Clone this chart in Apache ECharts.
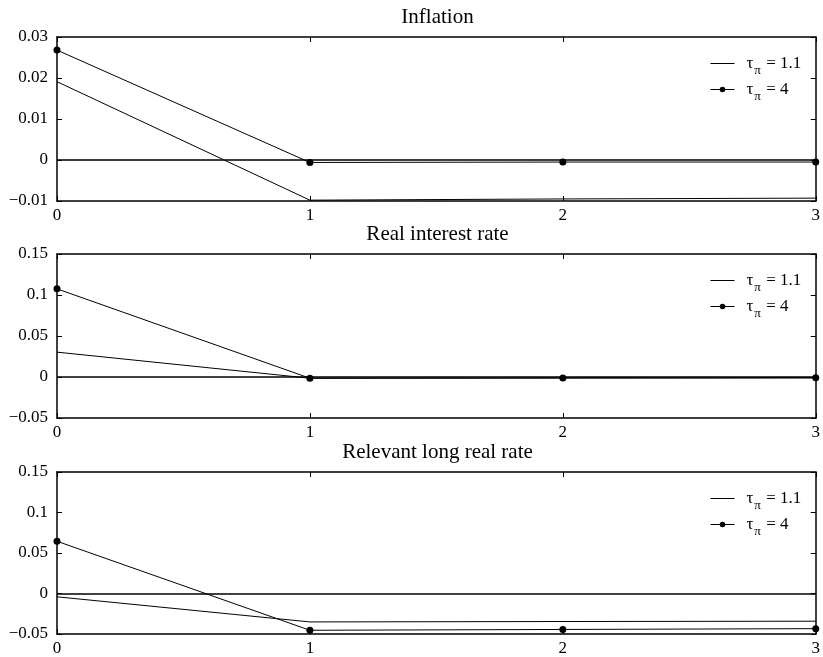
<!DOCTYPE html>
<html>
<head>
<meta charset="utf-8">
<script src="https://cdn.jsdelivr.net/npm/echarts@6/dist/echarts.min.js"></script>
<style>html,body{margin:0;padding:0;background:#fff}#c{width:823px;height:657px}</style>
</head>
<body>
<div id="c"></div>
<script>
const periods = [0, 1, 2, 3];
const titles = ['Inflation', 'Real interest rate', 'Relevant long real rate'];
const seriesNames = ['τπ = 1.1', 'τπ = 4'];
// tau_pi = 1.1 (plain line) and tau_pi = 4 (line with dots)
const inflationLow = [0.0191, -0.0098, -0.0095, -0.0093];
const inflationHigh = [0.0268, -0.0006, -0.0005, -0.0005];
const realRateLow = [0.0303, -0.0015, -0.0012, -0.0010];
const realRateHigh = [0.1075, -0.0015, -0.0012, -0.0010];
const longRateLow = [-0.0041, -0.0351, -0.0346, -0.0342];
const longRateHigh = [0.0645, -0.0454, -0.0444, -0.0434];
const yMins = [-0.01, -0.05, -0.05];
const yMaxs = [0.03, 0.15, 0.15];
const ySteps = [0.01, 0.05, 0.05];

const lowSets = [inflationLow, realRateLow, longRateLow];
const highSets = [inflationHigh, realRateHigh, longRateHigh];

const FONT = 'Liberation Serif';
const gridTops = [37, 254, 472];
const gridH = 164;
const gridLeft = 57, gridRight = 5;

function yFmt(v) {
  const n = parseFloat(Number(v).toFixed(4));
  if (n === 0) return '0';
  return n < 0 ? '\u2212' + String(-n) : String(n);
}

const grids = [], xAxes = [], yAxes = [], series = [], legends = [], titleArr = [];
const axisLine = {show: true, onZero: false, lineStyle: {color: '#000', width: 1.5}};
const axisTick = {show: true, inside: true, length: 5, lineStyle: {color: '#000', width: 1}};

for (let i = 0; i < 3; i++) {
  grids.push({left: gridLeft, right: gridRight, top: gridTops[i], height: gridH, containLabel: false});
  titleArr.push({
    text: titles[i], left: (gridLeft + 823 - gridRight) / 2, top: gridTops[i] - 30,
    textAlign: 'center', padding: 0,
    textStyle: {fontFamily: FONT, fontSize: 21, fontWeight: 'normal', color: '#000'}
  });
  const xb = {
    type: 'value', gridIndex: i, position: 'bottom', min: 0, max: 3, interval: 1,
    axisLine, axisTick, splitLine: {show: false},
    axisLabel: {show: true, margin: 6, fontFamily: FONT, fontSize: 17, color: '#000'}
  };
  const xt = Object.assign({}, xb, {position: 'top', axisLabel: {show: false}});
  xAxes.push(xb, xt);
  const yl = {
    type: 'value', gridIndex: i, position: 'left', min: yMins[i], max: yMaxs[i], interval: ySteps[i],
    axisLine, axisTick, splitLine: {show: false},
    axisLabel: {show: true, margin: 9, fontFamily: FONT, fontSize: 17, color: '#000', formatter: yFmt}
  };
  const yr = Object.assign({}, yl, {position: 'right', axisLabel: {show: false}});
  yAxes.push(yl, yr);

  series.push({
    name: seriesNames[0], type: 'line', xAxisIndex: 2 * i, yAxisIndex: 2 * i,
    data: periods.map((p, k) => [p, lowSets[i][k]]),
    symbol: 'none', lineStyle: {color: '#000', width: 1}, itemStyle: {color: '#000'},
    animation: false, z: 3,
    markLine: {
      silent: true, symbol: 'none', animation: false,
      label: {show: false},
      lineStyle: {color: '#000', width: 1.5, type: 'solid'},
      data: [{yAxis: 0}]
    }
  });
  series.push({
    name: seriesNames[1], type: 'line', xAxisIndex: 2 * i, yAxisIndex: 2 * i,
    data: periods.map((p, k) => [p, highSets[i][k]]),
    symbol: 'circle', symbolSize: 7, showAllSymbol: true,
    lineStyle: {color: '#000', width: 1}, itemStyle: {color: '#000'},
    animation: false, z: 4
  });

  legends.push({
    data: [
      {name: seriesNames[0], icon: 'path://M0,0 L48,0 L48,2 L0,2 Z'},
      {name: seriesNames[1]}
    ],
    orient: 'vertical', left: 705, top: gridTops[i] + 13,
    itemWidth: 24, itemHeight: 7, itemGap: 4, selectedMode: false,
    lineStyle: {width: 1, color: '#000'},
    formatter: function (name) {
      return name === seriesNames[0] ? '{t|τ}{s|π}{t| = 1.1}' : '{t|τ}{s|π}{t| = 4}';
    },
    textStyle: {
      fontFamily: FONT, fontSize: 17, color: '#000', padding: [0, 0, 0, 7],
      rich: {
        t: {fontFamily: FONT, fontSize: 17, color: '#000'},
        s: {fontFamily: FONT, fontSize: 13, color: '#000', padding: [14, 1, 0, 1]}
      }
    }
  });
}

const chart = echarts.init(document.getElementById('c'), null, {renderer: 'canvas'});
chart.setOption({
  backgroundColor: '#fff',
  animation: false,
  title: titleArr,
  legend: legends,
  grid: grids,
  xAxis: xAxes,
  yAxis: yAxes,
  series: series
});
</script>
</body>
</html>
